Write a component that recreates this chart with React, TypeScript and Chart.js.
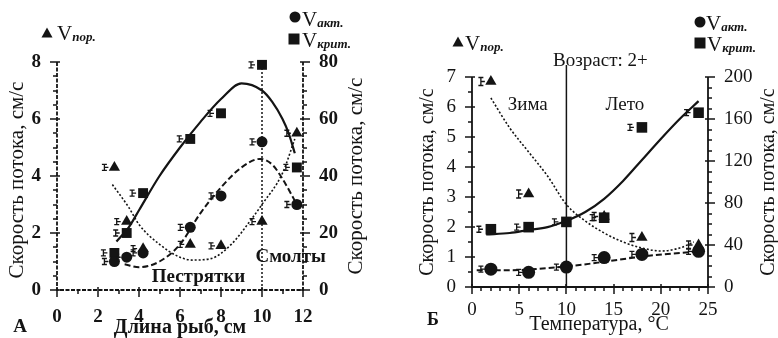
import React, { useEffect, useRef } from "react";
import { Chart, registerables } from "chart.js";
Chart.register(...registerables);

// ---------- Panel A (length of fish) ----------
const aLength = [2.8, 3.4, 4.2, 6.5, 8.0, 10.0, 11.7];
const aPor = [4.3, 2.4, 1.45, 1.6, 1.55, 2.4, 5.5]; // left axis
const aAkt = [10, 11.5, 13, 22, 33, 52, 30]; // right axis
const aKrit = [13, 20, 34, 53, 62, 79, 43]; // right axis
const aKritCurveX = [2.9, 3.5, 4.0, 5.0, 6.0, 7.0, 8.0, 9.0, 10.0, 10.5, 11.0, 11.3, 11.6];
const aKritCurveY = [17, 22, 28, 40, 50, 59, 67, 72.5, 70, 66, 60, 55, 48];
const aAktCurveX = [3.3, 4.0, 5.0, 6.0, 7.0, 8.0, 9.0, 9.9, 10.5, 11.0, 11.7];
const aAktCurveY = [9, 8, 10, 16, 27, 36, 43, 46, 44, 39, 30];
const aPorCurveX = [2.7, 3.5, 4.0, 5.0, 6.0, 6.6, 7.5, 8.5, 9.5, 10.0, 11.0, 11.6];
const aPorCurveY = [3.7, 2.9, 2.3, 1.6, 1.15, 1.05, 1.1, 1.6, 2.5, 3.0, 4.1, 5.3];
const aXTicks = [0, 2, 4, 6, 8, 10, 12];
const aLeftTicks = [0, 2, 4, 6, 8];
const aRightTicks = [0, 20, 40, 60, 80];
const aSmoltLength = 10;

// ---------- Panel B (temperature) ----------
const bTemp = [2, 6, 10, 14, 18, 24];
const bPor = [6.85, 3.1, null, 2.35, 1.65, 1.4]; // left axis
const bAkt = [17, 14, 19, 28, 31, 34]; // right axis
const bKrit = [55, 57, 62, 66, 152, 166]; // right axis
const bKritCurveX = [1.5, 4, 6, 8, 10, 12, 14, 16, 18, 20, 22, 24];
const bKritCurveY = [50, 51.4, 54.3, 57, 63, 71.4, 84, 101, 121, 141, 160, 177];
const bAktCurveX = [0.5, 4, 8, 10, 14, 18, 24];
const bAktCurveY = [16, 16, 18, 19.5, 24, 29, 34];
const bPorCurveX = [2, 4, 6, 8, 10, 12, 14, 16, 18, 20, 22, 23.5];
const bPorCurveY = [6.3, 5.3, 4.5, 3.7, 2.75, 2.2, 1.8, 1.5, 1.3, 1.2, 1.3, 1.5];
const bXTicks = [0, 5, 10, 15, 20, 25];
const bLeftTicks = [0, 1, 2, 3, 4, 5, 6, 7];
const bRightTicks = [0, 40, 80, 120, 160, 200];
const bSeasonTemp = 10;

const INK = "#141414";
const SERIF = '"Liberation Serif", "DejaVu Serif", serif';

function pts(xs: number[], ys: (number | null)[]) {
  return xs.map((x, i) => ({ x, y: ys[i] as any }));
}

function drawShape(ctx: CanvasRenderingContext2D, shape: string, x: number, y: number, r: number) {
  ctx.beginPath();
  if (shape === "tri") {
    ctx.moveTo(x, y - r);
    ctx.lineTo(x + r, y + r * 0.8);
    ctx.lineTo(x - r, y + r * 0.8);
    ctx.closePath();
  } else if (shape === "circ") {
    ctx.arc(x, y, r, 0, Math.PI * 2);
  } else {
    ctx.rect(x - r, y - r, 2 * r, 2 * r);
  }
  ctx.fill();
}

function legendItem(ctx: CanvasRenderingContext2D, shape: string, sx: number, sy: number, vx: number, by: number, sub: string) {
  ctx.save();
  ctx.fillStyle = INK;
  drawShape(ctx, shape, sx, sy, 5.5);
  ctx.textAlign = "left";
  ctx.textBaseline = "alphabetic";
  ctx.font = `21px ${SERIF}`;
  ctx.fillText("V", vx, by);
  const w = ctx.measureText("V").width;
  ctx.font = `italic bold 13px ${SERIF}`;
  ctx.fillText(sub, vx + w, by + 1);
  ctx.restore();
}

function text(ctx: CanvasRenderingContext2D, s: string, x: number, y: number, font: string, rot = 0) {
  ctx.save();
  ctx.fillStyle = INK;
  ctx.font = font;
  ctx.textAlign = "center";
  ctx.textBaseline = "middle";
  ctx.translate(x, y);
  if (rot) ctx.rotate(rot);
  ctx.fillText(s, 0, 0);
  ctx.restore();
}

// outward tick marks
function drawTicks(chart: any, axes: Record<string, { major: number; minor: number }>) {
  const ctx: CanvasRenderingContext2D = chart.ctx;
  const a = chart.chartArea;
  ctx.save();
  ctx.fillStyle = INK;
  for (const id of Object.keys(axes)) {
    const s = chart.scales[id];
    const { major, minor } = axes[id];
    const n = Math.round((s.max - s.min) / minor);
    for (let k = 0; k <= n; k++) {
      const v = s.min + k * minor;
      const isMajor = Math.abs(v / major - Math.round(v / major)) < 1e-6;
      const len = isMajor ? 7 : 4;
      const p = Math.round(s.getPixelForValue(v));
      if (id === "x") {
        ctx.fillRect(p - 0.75, a.bottom - (isMajor ? 3 : 0), 1.5, len + (isMajor ? 3 : 0));
      } else if (id === "y") {
        ctx.fillRect(a.left - len, p - 0.75, len + (isMajor ? 3 : 0), 1.5);
      } else {
        ctx.fillRect(a.right - (isMajor ? 3 : 0), p - 0.75, len + (isMajor ? 3 : 0), 1.5);
      }
    }
  }
  ctx.restore();
}

const errPlugin = {
  id: "errBars",
  afterDatasetsDraw(chart: any) {
    const ctx = chart.ctx;
    ctx.save();
    ctx.strokeStyle = INK;
    ctx.lineWidth = 1.3;
    ctx.setLineDash([]);
    chart.data.datasets.forEach((ds: any, i: number) => {
      if (!ds.errBar) return;
      const meta = chart.getDatasetMeta(i);
      meta.data.forEach((el: any, j: number) => {
        if (ds.data[j].y == null || el.skip) return;
        const x = el.x - ds.errBar.off;
        const h = ds.errBar.h;
        ctx.beginPath();
        ctx.moveTo(x, el.y - h);
        ctx.lineTo(x, el.y + h);
        ctx.moveTo(x - 2.5, el.y - h);
        ctx.lineTo(x + 2.5, el.y - h);
        ctx.moveTo(x - 2.5, el.y + h);
        ctx.lineTo(x + 2.5, el.y + h);
        ctx.moveTo(x, el.y);
        ctx.lineTo(x + 4, el.y);
        ctx.stroke();
      });
    });
    ctx.restore();
  },
};

function curve(data: any[], axis: string, dash: number[], width: number) {
  return {
    type: "line" as const,
    data,
    yAxisID: axis,
    borderColor: INK,
    borderWidth: width,
    borderDash: dash,
    pointRadius: 0,
    tension: 0.4,
    cubicInterpolationMode: "monotone" as const,
    fill: false,
    clip: false as any,
  };
}

function frameLine(data: any[], dash: number[]) {
  return {
    type: "line" as const,
    data,
    yAxisID: "y",
    borderColor: INK,
    borderWidth: 1.8,
    borderDash: dash,
    pointRadius: 0,
    tension: 0,
    fill: false,
    clip: 10 as any,
  };
}

function frame(xMax: number, yMax: number, dash: number[]) {
  return [
    frameLine([{ x: 0, y: yMax }, { x: 0, y: 0 }, { x: xMax, y: 0 }, { x: xMax, y: yMax }], dash),
  ];
}

function marks(data: any[], axis: string, style: string, r: number, err: any) {
  return {
    type: "scatter" as const,
    data,
    yAxisID: axis,
    pointStyle: style,
    pointRadius: r,
    backgroundColor: INK,
    borderColor: INK,
    borderWidth: 0,
    showLine: false,
    errBar: err,
    clip: false as any,
  };
}

function axisScales(
  xMax: number, xTicks: number[], yMax: number, yTicks: number[], y1Max: number, y1Ticks: number[],
  leftW: number, rightW: number, bottomH: number, fontSize: number, bold: boolean, xPad: number
) {
  const font = { family: SERIF, size: fontSize, weight: bold ? ("bold" as const) : ("normal" as const) };
  const border = { display: false };
  return {
    x: {
      type: "linear" as const,
      min: 0,
      max: xMax,
      afterBuildTicks: (s: any) => { s.ticks = xTicks.map((v) => ({ value: v })); },
      afterFit: (s: any) => { s.height = bottomH; },
      grid: { display: false },
      border,
      ticks: { color: INK, font, padding: xPad, maxRotation: 0, autoSkip: false },
    },
    y: {
      type: "linear" as const,
      position: "left" as const,
      min: 0,
      max: yMax,
      afterBuildTicks: (s: any) => { s.ticks = yTicks.map((v) => ({ value: v })); },
      afterFit: (s: any) => { s.width = leftW; },
      grid: { display: false },
      border,
      ticks: { color: INK, font, padding: 8, autoSkip: false },
    },
    y1: {
      type: "linear" as const,
      position: "right" as const,
      min: 0,
      max: y1Max,
      afterBuildTicks: (s: any) => { s.ticks = y1Ticks.map((v) => ({ value: v })); },
      afterFit: (s: any) => { s.width = rightW; },
      grid: { display: false },
      border,
      ticks: { color: INK, font, padding: 8, autoSkip: false },
    },
  };
}

function PanelA() {
  const ref = useRef<HTMLCanvasElement>(null);
  useEffect(() => {
    const labels = {
      id: "labelsA",
      afterDraw(chart: any) {
        const ctx = chart.ctx;
        drawTicks(chart, { x: { major: 2, minor: 1 }, y: { major: 2, minor: 0.5 }, y1: { major: 20, minor: 5 } });
        const sx = chart.scales.x, sy = chart.scales.y;
        legendItem(ctx, "tri", 47, 33, 57, 40, "пор.");
        legendItem(ctx, "circ", 295, 17, 302, 26, "акт.");
        legendItem(ctx, "rect", 294, 39, 302, 47, "крит.");
        text(ctx, "Пестрятки", sx.getPixelForValue(6.9), sy.getPixelForValue(0.45), `bold 19px ${SERIF}`);
        text(ctx, "Смолты", sx.getPixelForValue(11.4), sy.getPixelForValue(1.15), `bold 19px ${SERIF}`);
        text(ctx, "Длина рыб, см", 180, 328, `bold 20px ${SERIF}`);
        text(ctx, "А", 20, 327, `bold 19px ${SERIF}`);
        text(ctx, "Скорость потока, см/с", 17, 180, `21px ${SERIF}`, -Math.PI / 2);
        text(ctx, "Скорость потока, см/с", 356, 176, `21px ${SERIF}`, -Math.PI / 2);
      },
    };
    const chart = new Chart(ref.current!, {
      type: "scatter",
      data: {
        datasets: [
          ...frame(12, 8, [4, 1.5]),
          {
            type: "line",
            data: [{ x: aSmoltLength, y: 0 }, { x: aSmoltLength, y: 8 }],
            yAxisID: "y",
            borderColor: INK,
            borderWidth: 1.5,
            borderDash: [2, 2],
            pointRadius: 0,
          } as any,
          curve(pts(aKritCurveX, aKritCurveY), "y1", [], 2.2),
          curve(pts(aAktCurveX, aAktCurveY), "y1", [6, 3], 2),
          curve(pts(aPorCurveX, aPorCurveY), "y", [2, 2], 1.6),
          marks(pts(aLength, aPor), "y", "triangle", 6.5, { off: 10, h: 3 }),
          marks(pts(aLength, aAkt), "y1", "circle", 5.5, { off: 10, h: 3 }),
          marks(pts(aLength, aKrit), "y1", "rect", 7, { off: 11, h: 3 }),
        ] as any,
      },
      options: {
        animation: false,
        responsive: true,
        maintainAspectRatio: false,
        layout: { padding: { top: 62, left: 0, right: 0, bottom: 0 } },
        plugins: { legend: { display: false }, tooltip: { enabled: false } },
        scales: axisScales(12, aXTicks, 8, aLeftTicks, 80, aRightTicks, 57, 87, 48, 19, true, 8) as any,
      },
      plugins: [errPlugin, labels],
    });
    return () => chart.destroy();
  }, []);
  return (
    <div style={{ position: "absolute", left: 0, top: 0, width: 390, height: 338 }}>
      <canvas ref={ref} />
    </div>
  );
}

function PanelB() {
  const ref = useRef<HTMLCanvasElement>(null);
  useEffect(() => {
    const labels = {
      id: "labelsB",
      afterDraw(chart: any) {
        const ctx = chart.ctx;
        drawTicks(chart, { x: { major: 5, minor: 1 }, y: { major: 1, minor: 0.5 }, y1: { major: 40, minor: 10 } });
        const sx = chart.scales.x, sy = chart.scales.y;
        legendItem(ctx, "tri", 68, 42, 75, 50, "пор.");
        legendItem(ctx, "circ", 310, 22, 316, 30, "акт.");
        legendItem(ctx, "rect", 310, 43, 317, 51, "крит.");
        text(ctx, "Возраст: 2+", sx.getPixelForValue(13.6), 61, `19px ${SERIF}`);
        text(ctx, "Зима", sx.getPixelForValue(5.9), sy.getPixelForValue(6.07), `19px ${SERIF}`);
        text(ctx, "Лето", sx.getPixelForValue(16.2), sy.getPixelForValue(6.07), `19px ${SERIF}`);
        text(ctx, "Температура, °C", 209, 325, `20px ${SERIF}`);
        text(ctx, "Б", 43, 320, `bold 18px ${SERIF}`);
        text(ctx, "Скорость потока, см/с", 38, 182, `20px ${SERIF}`, -Math.PI / 2);
        text(ctx, "Скорость потока, см/с", 379, 182, `20px ${SERIF}`, -Math.PI / 2);
      },
    };
    const chart = new Chart(ref.current!, {
      type: "scatter",
      data: {
        datasets: [
          ...frame(25, 7, []),
          {
            type: "line",
            data: [{ x: bSeasonTemp, y: 0 }, { x: bSeasonTemp, y: 7.4 }],
            yAxisID: "y",
            borderColor: INK,
            borderWidth: 1.5,
            pointRadius: 0,
            clip: false,
          } as any,
          curve(pts(bKritCurveX, bKritCurveY), "y1", [], 2.2),
          curve(pts(bAktCurveX, bAktCurveY), "y1", [6, 3], 2),
          curve(pts(bPorCurveX, bPorCurveY), "y", [2, 2], 1.6),
          marks(pts(bTemp, bPor), "y", "triangle", 6.5, { off: 10, h: 4 }),
          marks(pts(bTemp, bAkt), "y1", "circle", 6.5, { off: 10, h: 3 }),
          marks(pts(bTemp, bKrit), "y1", "rect", 7.5, { off: 12, h: 3 }),
        ] as any,
      },
      options: {
        animation: false,
        responsive: true,
        maintainAspectRatio: false,
        layout: { padding: { top: 77, left: 0, right: 0, bottom: 0 } },
        plugins: { legend: { display: false }, tooltip: { enabled: false } },
        scales: axisScales(25, bXTicks, 7, bLeftTicks, 200, bRightTicks, 82, 70, 51, 19, false, 4) as any,
      },
      plugins: [errPlugin, labels],
    });
    return () => chart.destroy();
  }, []);
  return (
    <div style={{ position: "absolute", left: 390, top: 0, width: 388, height: 338 }}>
      <canvas ref={ref} />
    </div>
  );
}

export default function App() {
  return (
    <div style={{ position: "fixed", left: 0, top: 0, width: 778, height: 338, background: "#fff" }}>
      <PanelA />
      <PanelB />
    </div>
  );
}
